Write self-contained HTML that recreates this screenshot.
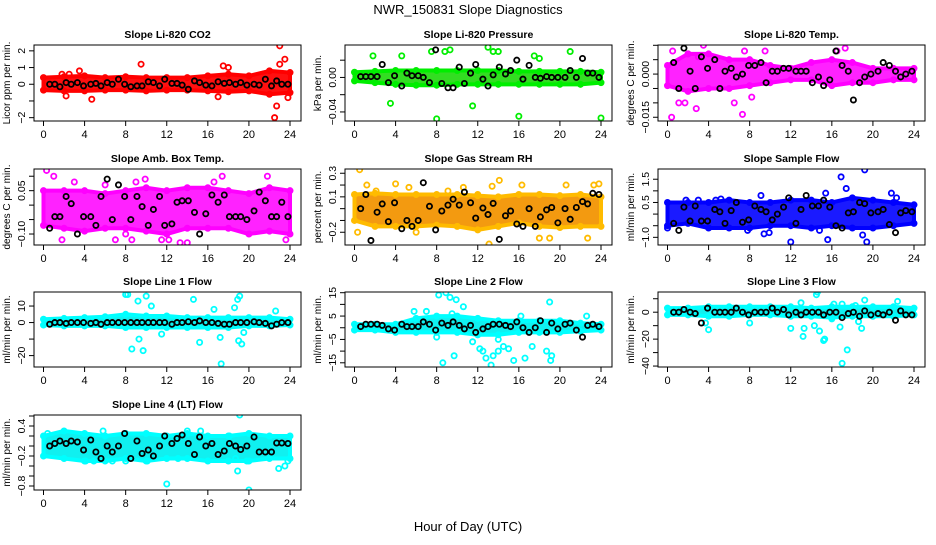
<!DOCTYPE html>
<html><head><meta charset="utf-8"><style>
body{margin:0;background:#fff;width:936px;height:540px;overflow:hidden}
svg{font-family:"Liberation Sans",Arial,sans-serif}
</style></head><body>
<svg id="chart" width="936" height="540" xmlns="http://www.w3.org/2000/svg">
<text x="468" y="14" text-anchor="middle" font-size="13">NWR_150831  Slope Diagnostics</text>
<text x="468" y="531" text-anchor="middle" font-size="13">Hour of Day (UTC)</text>
</svg>
<script>
const bandHours=[0,2,4,6,8,10,12,14,16,18,20,22,24];
const blackHours=[0.6,1.1,1.6,2.2,2.7,3.3,3.9,4.6,5.1,5.6,6.2,6.7,7.3,7.9,8.5,9.1,9.6,10.2,10.7,11.3,11.8,12.5,13,13.5,14.1,14.7,15.2,15.8,16.4,17,17.6,18.1,18.7,19.2,19.8,20.5,21,21.6,22.2,22.7,23.2,23.8];
const xTicks=[0,4,8,12,16,20,24];

const co2Upper=[0.4,0.45,0.5,0.4,0.45,0.4,0.4,0.4,0.5,0.6,0.5,0.8,0.7];
const co2Lower=[-0.35,-0.4,-0.4,-0.35,-0.35,-0.4,-0.35,-0.35,-0.4,-0.45,-0.4,-0.6,-0.5];
const co2Out=[[2.2,-0.7],[3.5,0.8],[4.7,-0.9],[9.5,1.2],[17.5,1.1],[18,1],[17,-0.75],[22.5,-2],[22.7,-1.3],[23,2.3],[23,1.2],[23.5,1.5],[23.8,-0.8],[1.8,0.6],[2.5,0.6]];
const co2Black=[0,0,-0.15,0.1,0,0.1,-0.1,0,0.05,-0.1,0.1,0,0.3,0,-0.15,-0.1,-0.1,0.15,0.1,-0.1,0.3,0.05,0.05,-0.05,-0.3,0.2,0.1,-0.05,-0.1,0.15,0.05,0.1,0,0.1,-0.05,0,-0.05,0.3,-0.1,0.2,0,0];

const presUpper=[0.006,0.007,0.008,0.008,0.008,0.008,0.008,0.008,0.007,0.007,0.007,0.007,0.006];
const presLower=[-0.004,-0.006,-0.008,-0.009,-0.009,-0.008,-0.008,-0.008,-0.008,-0.008,-0.008,-0.008,-0.006];
const presOut=[[4.6,0.025],[7.5,0.03],[8,-0.048],[8.8,0.03],[9.3,0.032],[11.5,-0.033],[13,0.035],[13.5,0.03],[14,0.03],[15,0.042],[16,-0.045],[17.5,0.025],[18,0.022],[21,0.03],[24,-0.047],[1.8,0.025],[3.5,-0.03]];
const presBlack=[0.001,0.001,0.001,0.001,0.015,-0.006,0.002,-0.01,0.005,0.002,0.002,0,-0.006,0.032,-0.007,-0.012,-0.012,0.012,-0.007,0.005,0.015,-0.002,-0.01,0.003,0.012,0.004,0.008,0.02,-0.002,0.014,0,-0.001,0.001,0,0,0,0.008,0,0.022,0.005,0.005,0];

const tempUpper=[0.003,0.007,0.007,0.005,0.005,0.003,0.002,0.004,0.005,0.004,0.002,0.002,0.002];
const tempLower=[-0.004,-0.006,-0.005,-0.005,-0.004,-0.003,-0.002,-0.002,-0.004,-0.003,-0.003,-0.002,-0.002];
const tempOut=[[0.4,-0.015],[0.5,0.008],[1.1,-0.01],[1.7,-0.01],[2.8,-0.012],[3.5,0.01],[6.5,-0.01],[7.3,-0.014],[7.5,0.008],[8.2,-0.008],[9.5,0.008],[17.3,0.009],[16.5,0.008],[3,0.006],[2,0.007]];
const tempBlack=[0.004,-0.005,0.009,0.001,-0.005,0.006,0.002,0.005,-0.005,0.001,0.002,-0.001,0,0.003,0.003,0.004,-0.003,0.001,0.001,0.002,0.002,0.001,0.001,0.001,-0.003,-0.001,-0.004,-0.002,0.008,0.003,0.001,-0.009,-0.003,-0.001,0,0.001,0.004,0.003,0.001,-0.001,0,0.001];

const ambUpper=[0.05,0.05,0.05,0.04,0.05,0.06,0.05,0.06,0.06,0.05,0.04,0.06,0.05];
const ambLower=[-0.07,-0.08,-0.09,-0.08,-0.08,-0.09,-0.1,-0.08,-0.08,-0.08,-0.1,-0.09,-0.1];
const ambOut=[[0.3,0.12],[1,0.1],[1.8,-0.12],[6,0.07],[7,-0.12],[8,-0.1],[8.6,-0.12],[9.9,0.09],[11.5,-0.12],[12.2,-0.12],[13.3,-0.13],[14,-0.13],[16.6,0.08],[17.4,0.1],[21.8,0.1],[23.6,-0.12],[9,0.08],[3,0.08]];
const ambBlack=[-0.08,-0.04,-0.04,0.03,0.005,-0.1,-0.04,-0.04,-0.07,0.03,0.09,-0.05,0.07,0.03,-0.05,0.03,-0.005,-0.07,-0.015,0.03,-0.07,-0.065,0.01,0.015,0.015,-0.025,-0.1,-0.03,0.035,0.01,0.035,-0.04,-0.04,-0.04,-0.05,-0.02,0.045,0.015,-0.04,-0.04,0.01,-0.04];

const rhUpper=[0.12,0.13,0.12,0.12,0.12,0.12,0.11,0.1,0.12,0.12,0.11,0.12,0.1];
const rhLower=[-0.1,-0.15,-0.15,-0.15,-0.14,-0.15,-0.18,-0.15,-0.12,-0.15,-0.16,-0.15,-0.15];
const rhOut=[[0.5,0.33],[1.2,0.2],[2.1,0.15],[4,0.21],[5.3,0.18],[6,-0.2],[9.1,0.15],[10.6,0.18],[12,0.12],[13.1,-0.3],[13.4,0.19],[14.1,0.24],[16.3,0.2],[18,-0.25],[19,-0.25],[20.6,0.2],[22.7,-0.25],[23.3,0.2],[23.8,0.21],[0.3,-0.2]];
const rhBlack=[0,0.12,-0.27,-0.03,0.04,-0.11,0.05,-0.17,-0.1,-0.15,-0.1,0.22,0.02,-0.18,-0.02,0.03,0.08,0.03,0.14,0.05,-0.08,0.005,-0.05,0.045,-0.26,-0.06,-0.02,-0.13,-0.15,0,-0.15,-0.07,-0.01,0.01,-0.12,0,-0.09,0.01,0.06,0.04,0.13,0.12];

const sampUpper=[0.5,0.5,0.5,0.6,0.5,0.5,0.6,0.6,0.5,0.7,0.6,0.5,0.4];
const sampLower=[-0.5,-0.4,-0.6,-0.6,-0.6,-0.5,-0.5,-0.6,-0.5,-0.6,-0.6,-0.5,-0.4];
const sampOut=[[0,-0.6],[1.8,0.6],[3,0.6],[4.7,0.6],[5.2,0.65],[7.8,-0.7],[9.1,0.8],[9.4,-0.85],[12,-1.2],[14.8,-0.7],[15.4,0.9],[15.6,-1.1],[16.9,1.6],[17.4,1.1],[19,-0.9],[19.2,1.9],[19.4,-1.2],[21.8,0.9],[22.3,0.7],[9.9,-0.8]];
const sampBlack=[-0.4,-0.7,0.3,-0.3,0.35,-0.3,-0.3,0.2,0.1,-0.4,0.15,0.5,-0.35,-0.25,0.35,0.2,0.1,-0.25,0,0.3,0.7,-0.4,0.2,0.8,0.35,0.35,0.6,0.3,-0.5,-0.6,0.05,0.1,0.5,0.45,0.05,0.1,0.2,-0.45,-0.8,0.05,0.15,0.1];

const l1Upper=[2,2.5,3,3.5,5,4,4,3,3,3,3,3,2];
const l1Lower=[-1.5,-2,-2,-2,-3,-3,-3,-3,-3,-3,-2,-2,-1.5];
const l1Out=[[8,17],[8.2,17],[8.6,-16],[9.2,13],[9.3,-10],[9.7,-17],[10,16],[10.5,10],[11.5,-7],[14.6,14],[15.2,-12],[17.3,-25],[17.2,-9],[18.6,9],[18.9,14],[19.1,16],[19,-11],[19.3,-13],[19.5,-6],[22.6,7],[16.6,8]];
const l1Black=[-1,0,0,-0.5,0,0,0,-0.5,0,-1,0,0,0,0,0,0,0,0,0,0,0,-1,0,0,0.5,0,1,0,0,-0.5,-1,-1,0,0,0,0.5,0,-0.5,-2,-1,0,0];

const l2Upper=[1.5,1.5,1.5,4,5,5,4,3,3,3,3,2,1.5];
const l2Lower=[-1,-1,-2,-2,-2,-2,-3,-3,-2,-2,-2,-1.5,-1];
const l2Out=[[5.8,7],[7,7],[8,-4],[8.2,14],[8.6,-15],[8.9,15],[9.3,13],[9.5,6],[9.7,-12],[9.9,12],[10.6,9],[11.5,-6],[12.2,-9],[12.5,-10],[12.8,-13],[13.3,-16],[13.5,-12],[14,-5],[14.5,-8],[15,-9],[15.5,-14],[16.6,-13],[17.3,-8],[18.7,-10],[19,11],[19.2,-12],[19.1,-14],[16.2,5],[22.6,5],[14,-10],[12,-3]];
const l2Black=[0.5,1.5,1.5,1.5,1,-0.5,-1,1.5,0.5,0.5,0.5,2.5,1.5,-1,2,1,2.5,1,-0.5,1,-2,-0.5,0.5,1.5,1.5,1,0.5,2.5,0,-2,0,3,-2,2,-0.5,1.5,2,-1,-4,1,1.5,0.5];

const l3Upper=[3,3,4,4,4,4,4,3,4,4,4,4,3];
const l3Lower=[-2,-2,-3,-3,-2,-2,-3,-3,-4,-3,-3,-3,-2];
const l3Out=[[3.7,-8],[4,-13],[8,-8],[12,-12],[13,7],[13.2,-18],[13.3,-12],[14.3,-10],[14.5,13],[14.6,15],[14.8,-14],[15.3,-20],[15.2,-21],[16.2,6],[16.8,-11],[17,6],[17,-38],[17.5,-28],[18.3,5],[18.9,-12],[19.2,9],[22.4,8],[16,-5],[18.6,-7]];
const l3Black=[0,0,2,0,-1,-8,3,0,0,0,0,3,0,-2,0,0,0,3,0,2,-2,0,-2,0,0,0,-2,0,0,-4,-1,0,-3,1,-2,-1,-2,0,-6,1,-2,-2];

const l4Upper=[0.2,0.3,0.25,0.2,0.25,0.25,0.2,0.25,0.2,0.2,0.25,0.2,0.2];
const l4Lower=[-0.2,-0.25,-0.3,-0.3,-0.25,-0.3,-0.25,-0.25,-0.3,-0.3,-0.3,-0.25,-0.25];
const l4Out=[[4.1,-0.3],[4.9,-0.3],[6.7,-0.3],[8,-0.3],[10.1,-0.3],[12,-0.76],[13.1,-0.25],[15.3,0.3],[18.1,0.2],[18.7,-0.25],[18.9,-0.5],[19.1,0.62],[19.8,-0.3],[20,-0.88],[22.9,-0.45],[23.5,-0.4],[23.8,-0.3],[14,0.3],[5.8,0.3],[0.4,0.25]];
const l4Black=[0,0.05,0.1,0.05,0.1,0.08,-0.08,0.12,-0.12,-0.25,0,-0.12,0,0.25,-0.25,0.1,-0.15,-0.08,-0.2,0,0.2,0.05,0.15,0.22,0.05,-0.17,0.18,0,0.05,-0.17,-0.1,0.05,0,-0.07,0,0.18,-0.12,-0.12,-0.12,0.06,0.06,0.05];

const svg=document.getElementById('chart');
const NS='http://www.w3.org/2000/svg';
function mk(tag,attrs,parent){const e=document.createElementNS(NS,tag);for(const k in attrs)e.setAttribute(k,attrs[k]);parent.appendChild(e);return e;}
const cols=[34,345,658], rows=[[45,121],[169,245],[292,367],[415,490]];
const panels=[
 {id:'co2',c:0,r:0,title:'Slope Li-820 CO2',ylab:'Licor ppm per min.',ylim:[-2.2,2.35],ticks:[-2,-1,0,1,2],labels:{'-2':'\u22122','0':'0','1':'1','2':'2'},color:'#ff0000',fill:'#ff1010',up:co2Upper,lo:co2Lower,out:co2Out,blk:co2Black},
 {id:'pressure',c:1,r:0,title:'Slope Li-820 Pressure',ylab:'kPa per min.',ylim:[-0.0505,0.0376],ticks:[-0.04,-0.02,0,0.02],labels:{'-0.04':'\u22120.04','0':'0.00'},color:'#00ee00',fill:'#33dd22',up:presUpper,lo:presLower,out:presOut,blk:presBlack},
 {id:'temp',c:2,r:0,title:'Slope Li-820 Temp.',ylab:'degrees C per min.',ylim:[-0.0163,0.0101],ticks:[-0.015,-0.01,-0.005,0,0.005,0.01],labels:{'-0.015':'\u22120.015','0':'0.000'},color:'#ff00ff',fill:'#ff22ff',up:tempUpper,lo:tempLower,out:tempOut,blk:tempBlack},
 {id:'amb-box-temp',c:0,r:1,title:'Slope Amb. Box Temp.',ylab:'degrees C per min.',ylim:[-0.138,0.125],ticks:[-0.1,-0.05,0,0.05,0.1],labels:{'-0.1':'\u22120.10','0.05':'0.05'},color:'#ff00ff',fill:'#ff22ff',up:ambUpper,lo:ambLower,out:ambOut,blk:ambBlack},
 {id:'gas-rh',c:1,r:1,title:'Slope Gas Stream RH',ylab:'percent per min.',ylim:[-0.308,0.336],ticks:[-0.2,-0.1,0,0.1,0.2,0.3],labels:{'-0.2':'\u22120.2','0.1':'0.1','0.3':'0.3'},color:'#ffbb00',fill:'#f39a10',up:rhUpper,lo:rhLower,out:rhOut,blk:rhBlack},
 {id:'sample-flow',c:2,r:1,title:'Slope Sample Flow',ylab:'ml/min per min.',ylim:[-1.33,1.94],ticks:[-1,-0.5,0,0.5,1,1.5],labels:{'-1':'\u22121.0','0.5':'0.5','1.5':'1.5'},color:'#0000ff',fill:'#1a1aff',up:sampUpper,lo:sampLower,out:sampOut,blk:sampBlack},
 {id:'line1-flow',c:0,r:2,title:'Slope Line 1 Flow',ylab:'ml/min per min.',ylim:[-26.9,18.5],ticks:[-20,-10,0,10],labels:{'-20':'\u221220','0':'0','10':'10'},color:'#00ffff',fill:'#10f0f0',up:l1Upper,lo:l1Lower,out:l1Out,blk:l1Black},
 {id:'line2-flow',c:1,r:2,title:'Slope Line 2 Flow',ylab:'ml/min per min.',ylim:[-16.8,15.3],ticks:[-15,-10,-5,0,5,10,15],labels:{'-15':'\u221215','-5':'\u22125','5':'5','15':'15'},color:'#00ffff',fill:'#10f0f0',up:l2Upper,lo:l2Lower,out:l2Out,blk:l2Black},
 {id:'line3-flow',c:2,r:2,title:'Slope Line 3 Flow',ylab:'ml/min per min.',ylim:[-40.7,15],ticks:[-40,-30,-20,-10,0,10],labels:{'-40':'\u221240','-20':'\u221220','0':'0'},color:'#00ffff',fill:'#10f0f0',up:l3Upper,lo:l3Lower,out:l3Out,blk:l3Black},
 {id:'line4-flow',c:0,r:3,title:'Slope Line 4 (LT) Flow',ylab:'ml/min per min.',ylim:[-0.88,0.62],ticks:[-0.8,-0.6,-0.4,-0.2,0,0.2,0.4,0.6],labels:{'-0.8':'\u22120.8','-0.2':'\u22120.2','0.4':'0.4'},color:'#00ffff',fill:'#10f0f0',up:l4Upper,lo:l4Lower,out:l4Out,blk:l4Black}
];
panels.forEach(p=>{
 const L=cols[p.c], R=L+267, T=rows[p.r][0], B=rows[p.r][1];
 const xs=h=>L+9.5+h*(246.5/24);
 const ys=v=>B-(v-p.ylim[0])/(p.ylim[1]-p.ylim[0])*(B-T);
 const g=mk('g',{},svg);
 
 
 const clipId='clip-'+p.id;
 const cp=mk('clipPath',{id:clipId},g); mk('rect',{x:L,y:T,width:R-L,height:B-T},cp);
 const plot=mk('g',{'clip-path':'url(#'+clipId+')'},g);
 let pts=bandHours.map((h,i)=>xs(h)+','+ys(p.up[i]));
 pts=pts.concat(bandHours.slice().reverse().map((h,j)=>{const i=bandHours.length-1-j;return xs(h)+','+ys(p.lo[i]);}));
 const band=mk('polygon',{points:pts.join(' '),fill:p.fill,stroke:p.color,'stroke-width':4,'stroke-linejoin':'round'},plot);
 
 
 bandHours.forEach((h,i)=>{
  [p.up[i],p.lo[i]].forEach(v=>{
   const c=mk('circle',{cx:xs(h),cy:ys(v),r:2.6,fill:'none',stroke:p.color,'stroke-width':1.8},plot);
   
   
  });
 });
 p.out.forEach(o=>{
  const c=mk('circle',{cx:xs(o[0]),cy:ys(o[1]),r:2.6,fill:'none',stroke:p.color,'stroke-width':1.8},plot);
  
  
 });
 blackHours.forEach((h,i)=>{
  const c=mk('circle',{cx:xs(h),cy:ys(p.blk[i]),r:2.6,fill:'none',stroke:'#000','stroke-width':1.8},plot);
  
  
 });
 const box=mk('rect',{x:L,y:T,width:R-L,height:B-T,fill:'none',stroke:'#000','stroke-width':1},g);
 
 
 const tt=mk('text',{x:(L+R)/2,y:T-7,'text-anchor':'middle','font-size':10.5,'font-weight':'bold'},g);
 tt.textContent=p.title;
 
 
 xTicks.forEach(t=>{
  const x=xs(t);
  mk('line',{x1:x,y1:B,x2:x,y2:B+5,stroke:'#000'},g);
  const lt=mk('text',{x:x,y:B+17,'text-anchor':'middle','font-size':11},g);
  lt.textContent=t;
  
  
 });
 p.ticks.forEach(t=>{
  const y=ys(t);
  mk('line',{x1:L,y1:y,x2:L-5,y2:y,stroke:'#000'},g);
  const key=String(t);
  if(p.labels[key]!==undefined){
   const lt=mk('text',{x:L-9,y:y,'text-anchor':'middle','font-size':10.5,transform:'rotate(-90 '+(L-9)+' '+y+')'},g);
   lt.textContent=p.labels[key];
   
   
  }
 });
 const yl=mk('text',{x:L-24,y:(T+B)/2,'text-anchor':'middle','font-size':10,transform:'rotate(-90 '+(L-24)+' '+((T+B)/2)+')'},g);
 yl.textContent=p.ylab;
 
 
});
</script>
</body></html>
